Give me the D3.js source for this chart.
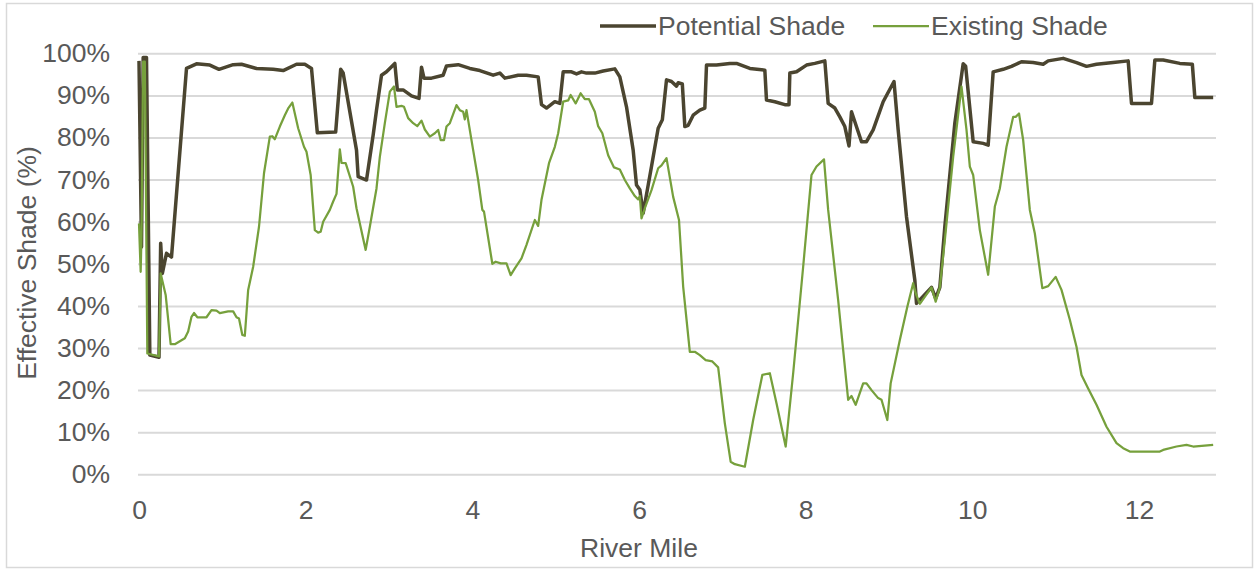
<!DOCTYPE html>
<html>
<head>
<meta charset="utf-8">
<script src="https://cdn.jsdelivr.net/npm/d3@7"></script>
<style>
  body { margin: 0; background: #fff; }
  text { font-family: "Liberation Sans", Arial, sans-serif; fill: #595959; }
</style>
</head>
<body>
<div id="chart"></div>
<script>
// River mile / effective shade (%)
var potentialMile = [0, 0.03, 0.05, 0.09, 0.13, 0.24, 0.26, 0.28, 0.33, 0.39, 0.57, 0.69, 0.85, 0.96,
  1.13, 1.23, 1.41, 1.61, 1.73, 1.89, 1.99, 2.07, 2.14, 2.36, 2.42, 2.45, 2.61, 2.63, 2.73, 2.81,
  2.85, 2.91, 2.97, 3.07, 3.10, 3.17, 3.27, 3.36, 3.39, 3.42, 3.51, 3.65, 3.69, 3.83, 3.97, 4.09,
  4.25, 4.33, 4.39, 4.55, 4.65, 4.79, 4.83, 4.89, 4.99, 5.05, 5.09, 5.19, 5.25, 5.31, 5.37, 5.47,
  5.57, 5.71, 5.77, 5.85, 5.93, 5.97, 6.01, 6.05, 6.15, 6.23, 6.28, 6.33, 6.39, 6.45, 6.47, 6.52,
  6.55, 6.59, 6.65, 6.73, 6.79, 6.81, 6.93, 7.09, 7.17, 7.33, 7.51, 7.53, 7.63, 7.75, 7.80, 7.81,
  7.89, 8.01, 8.11, 8.23, 8.27, 8.35, 8.41, 8.47, 8.52, 8.55, 8.67, 8.73, 8.81, 8.93, 9.06, 9.11,
  9.21, 9.31, 9.33, 9.51, 9.56, 9.61, 9.67, 9.79, 9.89, 9.92, 10.01, 10.13, 10.19, 10.25, 10.37,
  10.47, 10.59, 10.73, 10.85, 10.91, 11.09, 11.25, 11.37, 11.49, 11.69, 11.87, 11.91, 12.15, 12.19,
  12.29, 12.49, 12.64, 12.67, 12.89];
var potentialVal = [98.2, 54, 99, 99, 28.3, 27.8, 54.9, 47.7, 52.5, 51.6, 96.4, 97.5, 97.2, 96.2,
  97.3, 97.4, 96.4, 96.2, 95.9, 97.4, 97.4, 96.4, 81.1, 81.3, 96.2, 95.3, 77, 70.7, 69.9, 80.6,
  86.5, 94.8, 95.6, 97.6, 91.3, 91.3, 89.9, 89.3, 96.7, 94.1, 94.1, 94.8, 97, 97.3, 96.4, 95.9,
  94.8, 95.3, 94.1, 94.8, 94.8, 94.4, 87.8, 87, 88.5, 88.1, 95.6, 95.6, 95.1, 95.6, 95.3, 95.3,
  95.8, 96.3, 94.4, 87.3, 77, 68.7, 67.6, 62, 73.1, 82.2, 84.2, 93.7, 93.3, 92.2, 93, 92.7,
  82.6, 82.9, 85.3, 86.5, 87, 97.2, 97.2, 97.6, 97.6, 96.4, 96, 88.9, 88.5, 87.8, 87.8, 95.3,
  95.6, 97.2, 97.6, 98.2, 88.1, 87, 84.9, 82.6, 78, 86.1, 79, 79, 81.8, 88.5, 93.3, 81.8,
  61.2, 46.1, 40.6, 44.4, 41.8, 44.4, 58.8, 83.4, 97.5, 96.9, 79, 78.6, 78.2, 95.6, 96.2,
  96.9, 98, 97.8, 97.4, 98.2, 98.8, 97.8, 96.9, 97.4, 97.8, 98.2, 88.1, 88.1, 98.4,
  98.4, 97.6, 97.4, 89.5, 89.5];

var existingMile = [0, 0.02, 0.03, 0.05, 0.07, 0.10, 0.24, 0.26, 0.32, 0.38, 0.43, 0.55, 0.59, 0.63,
  0.66, 0.70, 0.81, 0.87, 0.93, 0.97, 1.07, 1.13, 1.17, 1.20, 1.24, 1.27, 1.31, 1.37, 1.44, 1.50,
  1.57, 1.60, 1.63, 1.69, 1.75, 1.79, 1.84, 1.91, 1.98, 2.01, 2.06, 2.11, 2.15, 2.18, 2.21, 2.29,
  2.33, 2.37, 2.41, 2.43, 2.48, 2.57, 2.61, 2.72, 2.77, 2.85, 2.89, 2.95, 3.01, 3.06, 3.09, 3.15,
  3.18, 3.23, 3.29, 3.34, 3.39, 3.43, 3.49, 3.55, 3.59, 3.62, 3.66, 3.69, 3.73, 3.81, 3.85, 3.89,
  3.91, 3.93, 4.01, 4.07, 4.12, 4.14, 4.24, 4.28, 4.34, 4.41, 4.46, 4.51, 4.59, 4.65, 4.75, 4.79,
  4.83, 4.92, 4.99, 5.03, 5.09, 5.15, 5.18, 5.24, 5.30, 5.35, 5.40, 5.47, 5.51, 5.56, 5.63, 5.70,
  5.77, 5.83, 5.89, 5.95, 5.99, 6.01, 6.03, 6.07, 6.15, 6.23, 6.27, 6.33, 6.41, 6.48, 6.53, 6.61,
  6.67, 6.73, 6.80, 6.88, 6.95, 7.03, 7.10, 7.15, 7.27, 7.37, 7.48, 7.57, 7.65, 7.76, 7.85, 7.97,
  8.07, 8.13, 8.22, 8.27, 8.39, 8.51, 8.55, 8.60, 8.69, 8.73, 8.79, 8.87, 8.91, 8.98, 9.02, 9.13,
  9.22, 9.29, 9.32, 9.37, 9.51, 9.56, 9.61, 9.67, 9.77, 9.87, 9.93, 9.97, 10.01, 10.09, 10.19,
  10.27, 10.33, 10.41, 10.49, 10.52, 10.56, 10.61, 10.69, 10.75, 10.84, 10.91, 11.00, 11.07, 11.17,
  11.25, 11.31, 11.39, 11.49, 11.61, 11.73, 11.81, 11.89, 12.25, 12.29, 12.45, 12.57, 12.65, 12.89];
var existingVal = [59.6, 48.1, 57, 98, 98, 28.7, 28, 47.7, 42.6, 30.9, 30.9, 32.3, 33.9, 37.4,
  38.3, 37.3, 37.3, 39, 38.9, 38.3, 38.7, 38.7, 37.3, 37, 33.1, 32.9, 43.8, 49.3, 58.8, 71.5,
  80.2, 80.3, 79.6, 82.6, 85.3, 86.9, 88.3, 82.2, 77.8, 76.6, 71.1, 58, 57.4, 57.6, 60, 62.8,
  64.8, 66.6, 77.2, 74, 73.9, 68.3, 63.2, 53.3, 58.8, 67.9, 75.4, 83.4, 90.9, 92.1, 87.3, 87.5,
  87.3, 84.6, 83.4, 82.7, 84, 81.9, 80.2, 81, 81.8, 79.4, 79.4, 82.6, 83.4, 87.7, 86.5, 86.1,
  84.3, 86.5, 77, 69.9, 62.8, 62.4, 50, 50.5, 50.1, 50.1, 47.3, 48.9, 51.3, 54.5, 60.4, 59,
  65.2, 73.9, 77.8, 81, 88.5, 88.8, 90.1, 88.1, 90.5, 89.1, 89.1, 86.1, 82.7, 81, 75.8, 72.9,
  72.4, 69.9, 67.9, 66.1, 65.3, 66.1, 60.8, 63.2, 67.5, 72.7, 73.4, 75.1, 65.9, 60.4, 44.6, 29.1,
  29.1, 28.3, 27.1, 26.8, 25.4, 12.1, 3, 2.4, 1.8, 12.9, 23.6, 24, 16.9, 6.6, 24, 49.3,
  71.1, 73.1, 74.8, 62.8, 41.4, 17.7, 18.6, 16.5, 21.6, 21.6, 20, 18.1, 17.7, 12.9, 21.6, 31.9,
  39.8, 45.4, 43, 40.5, 44.4, 41, 44.4, 55.6, 75.4, 92.1, 81.8, 73.1, 71.1, 58, 47.4,
  63.6, 67.9, 77.8, 84.9, 84.9, 85.7, 79.4, 62.8, 57.2, 44.2, 44.7, 46.9, 43.8, 36.7,
  30.3, 23.6, 20.4, 16.5, 11.3, 7.4, 6.2, 5.4, 5.4, 5.8, 6.6, 7, 6.6, 7];

var xTicks = [0, 2, 4, 6, 8, 10, 12];
var yTicks = [0, 10, 20, 30, 40, 50, 60, 70, 80, 90, 100];
var seriesNames = ["Potential Shade", "Existing Shade"];
var seriesColors = ["#4b4530", "#76a03c"];

var W = 1259, H = 571,
FONT = 26.5,
svg = d3.select("#chart").append("svg")
  .attr("width", W)
  .attr("height", H);

var x = d3.scaleLinear().domain([0, 12.9]).range([139, 1214]),
y = d3.scaleLinear().domain([0, 100]).range([474.3, 53.3]);

// chart border
svg.append("rect")
  .attr("x", 6.5).attr("y", 3.5)
  .attr("width", 1246).attr("height", 564)
  .style("fill", "#fff")
  .style("stroke", "#d9d9d9")
  .style("stroke-width", 1.5);

// gridlines + y labels
var yAxis = d3.axisLeft(y).tickValues(yTicks)
  .tickSize(-(1216 - 138)).tickPadding(28)
  .tickFormat(function(d) { return d + "%"; });
var gy = svg.append("g").attr("transform", "translate(138,0)").call(yAxis);
gy.select(".domain").remove();
gy.selectAll("line").style("stroke", "#d9d9d9").style("stroke-width", 2);
gy.selectAll("text").style("font-size", FONT + "px").style("fill", "#595959")
  .attr("font-family", null);

// x labels
var xAxis = d3.axisBottom(x).tickValues(xTicks).tickSize(0).tickPadding(26);
var gx = svg.append("g").attr("transform", "translate(0,474.3)").call(xAxis);
gx.select(".domain").remove();
gx.selectAll("text").style("font-size", FONT + "px").style("fill", "#595959")
  .attr("font-family", null);

svg.append("text")
  .attr("x", 639).attr("y", 548).attr("dy", "0.35em")
  .attr("text-anchor", "middle")
  .style("font-size", FONT + "px")
  .text("River Mile");

svg.append("text")
  .attr("transform", "translate(27,263) rotate(-90)")
  .attr("dy", "0.35em")
  .attr("text-anchor", "middle")
  .style("font-size", FONT + "px")
  .text("Effective Shade (%)");

var line = d3.line()
  .x(function(d) { return x(d[0]); })
  .y(function(d) { return y(d[1]); });

svg.append("path")
  .datum(d3.zip(potentialMile, potentialVal))
  .attr("d", line)
  .style("fill", "none")
  .style("stroke", seriesColors[0])
  .style("stroke-width", 3.5)
  .style("stroke-linejoin", "round");

svg.append("path")
  .datum(d3.zip(existingMile, existingVal))
  .attr("d", line)
  .style("fill", "none")
  .style("stroke", seriesColors[1])
  .style("stroke-width", 2.25)
  .style("stroke-linejoin", "round");

// legend
var legX = [600, 873], legW = [3.5, 2.25];
seriesNames.forEach(function(name, i) {
  svg.append("line")
    .attr("x1", legX[i]).attr("x2", legX[i] + 56)
    .attr("y1", 26).attr("y2", 26)
    .style("stroke", seriesColors[i])
    .style("stroke-width", legW[i]);
  svg.append("text")
    .attr("x", legX[i] + 58).attr("y", 26).attr("dy", "0.35em")
    .style("font-size", FONT + "px")
    .text(name);
});
</script>
</body>
</html>
